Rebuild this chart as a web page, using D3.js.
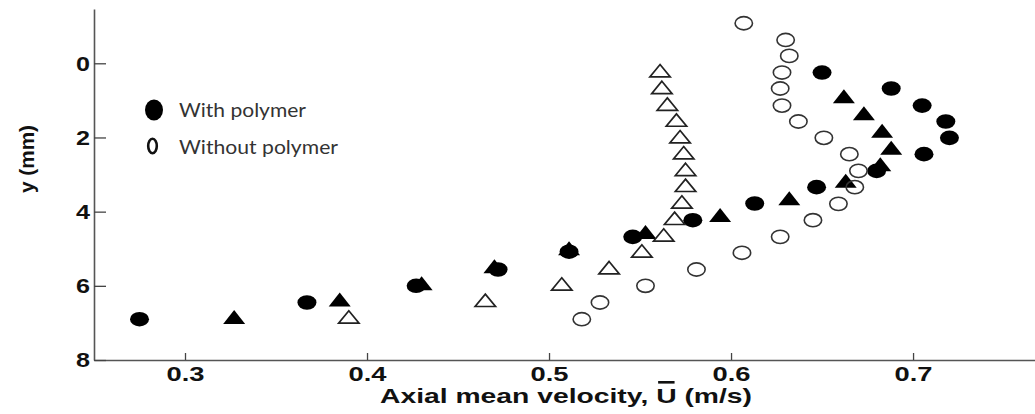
<!DOCTYPE html>
<html>
<head>
<meta charset="utf-8">
<script src="https://d3js.org/d3.v7.min.js"></script>
<style>
    html, body { margin: 0; padding: 0; background: #fff; }
    #chart { width: 1035px; height: 414px; }
    .tickLabel { font-family: "Liberation Sans", Arial, sans-serif; font-weight: bold; font-size: 21px; fill: #111; }
    .legendText { font-family: Lato, "Open Sans", sans-serif; font-size: 20px; fill: #333; }
</style>
</head>
<body>
<div id="chart"></div>
<script>

/* values: axial mean velocity (m/s) and y (mm) */

const filledCircleU = [0.275, 0.367, 0.427, 0.472, 0.511, 0.546, 0.579, 0.613, 0.647, 0.680, 0.706, 0.720, 0.718, 0.705, 0.688, 0.650];
const filledCircleY = [6.90, 6.45, 6.00, 5.56, 5.08, 4.68, 4.23, 3.78, 3.34, 2.90, 2.45, 2.01, 1.57, 1.14, 0.68, 0.25];

const filledTriangleU = [0.327, 0.385, 0.430, 0.470, 0.511, 0.553, 0.594, 0.632, 0.663, 0.682, 0.688, 0.683, 0.673, 0.662];
const filledTriangleY = [6.84, 6.37, 5.93, 5.47, 4.99, 4.55, 4.09, 3.64, 3.17, 2.72, 2.28, 1.82, 1.35, 0.89];

const openCircleU = [0.518, 0.528, 0.553, 0.581, 0.606, 0.627, 0.645, 0.659, 0.668, 0.670, 0.665, 0.651, 0.637, 0.628, 0.627, 0.628, 0.632, 0.630, 0.607];
const openCircleY = [6.90, 6.45, 6.00, 5.56, 5.11, 4.68, 4.23, 3.79, 3.34, 2.90, 2.45, 2.01, 1.57, 1.14, 0.68, 0.25, -0.20, -0.63, -1.08];

const openTriangleU = [0.390, 0.465, 0.507, 0.533, 0.551, 0.563, 0.569, 0.573, 0.575, 0.575, 0.574, 0.572, 0.570, 0.565, 0.562, 0.561];
const openTriangleY = [6.84, 6.39, 5.95, 5.51, 5.06, 4.63, 4.18, 3.74, 3.29, 2.86, 2.41, 1.98, 1.53, 1.10, 0.65, 0.20];

const xTicks = [0.3, 0.4, 0.5, 0.6, 0.7];
const yTicks = [0, 2, 4, 6, 8];
const legendLabels = ["With polymer", "Without polymer"];

const width = 1035;
const height = 414;

const canvas = d3.select("#chart")
    .append("svg")
    .attr("width", width)
    .attr("height", height);

const xScale = d3.scaleLinear()
    .domain([0.25, 0.767])
    .range([94, 1035]);

const yScale = d3.scaleLinear()
    .domain([-1.464, 8])
    .range([9, 360]);

function zip(us, ys) {
    return us.map(function(u, i) { return {u: u, y: ys[i]}; });
}

/*making the axes*/

const xAxis = canvas.append("g")
    .attr("transform", `translate(0,${yScale(8)})`)
    .call(d3.axisBottom(xScale).tickValues(xTicks).tickFormat(d3.format(".1f"))
        .tickSizeInner(-7).tickSizeOuter(0).tickPadding(6.5));

const yAxis = canvas.append("g")
    .attr("transform", `translate(${xScale(0.25)},0)`)
    .call(d3.axisLeft(yScale).tickValues(yTicks).tickFormat(d3.format("d"))
        .tickSizeInner(-12).tickSizeOuter(0).tickPadding(4));

canvas.selectAll(".domain").attr("stroke", "#555").attr("stroke-width", 1.6);
canvas.selectAll(".tick line").attr("stroke", "#444").attr("stroke-width", 1.3);

xAxis.selectAll("text")
    .attr("class", "tickLabel")
    .attr("font-size", null).attr("font-family", null)
    .attr("textLength", 38).attr("lengthAdjust", "spacingAndGlyphs");

yAxis.selectAll("text")
    .attr("class", "tickLabel")
    .attr("textLength", 14).attr("lengthAdjust", "spacingAndGlyphs");

xAxis.attr("font-family", null).attr("font-size", null);
yAxis.attr("font-family", null).attr("font-size", null);

/*axis titles*/

const xTitle = canvas.append("text")
    .attr("class", "tickLabel")
    .attr("x", 380)
    .attr("y", 403)
    .attr("font-size", 19.5)
    .attr("textLength", 372)
    .attr("lengthAdjust", "spacingAndGlyphs")
    .text("Axial mean velocity, U (m/s)");

// bar over the U
const uIndex = "Axial mean velocity, ".length;
const uBox = xTitle.node().getExtentOfChar(uIndex);
canvas.append("rect")
    .attr("x", uBox.x + 2)
    .attr("y", 381)
    .attr("width", uBox.width - 4)
    .attr("height", 2.6)
    .attr("fill", "#111");

canvas.append("text")
    .attr("class", "tickLabel")
    .attr("font-size", 20.5)
    .attr("text-anchor", "middle")
    .attr("transform", "translate(34,159) rotate(-90)")
    .attr("textLength", 68)
    .attr("lengthAdjust", "spacingAndGlyphs")
    .text("y (mm)");

/*drawing the markers*/

const points = canvas.append("g");

points.selectAll(".filledCircle")
    .data(zip(filledCircleU, filledCircleY))
    .enter()
    .append("ellipse")
        .attr("cx", function(d) { return xScale(d.u); })
        .attr("cy", function(d) { return yScale(d.y); })
        .attr("rx", 9.5)
        .attr("ry", 7.3)
        .attr("fill", "#000");

points.selectAll(".filledTriangle")
    .data(zip(filledTriangleU, filledTriangleY))
    .enter()
    .append("path")
        .attr("d", "M0,-7L11,7L-11,7Z")
        .attr("transform", function(d) { return `translate(${xScale(d.u)},${yScale(d.y)})`; })
        .attr("fill", "#000");

points.selectAll(".openCircle")
    .data(zip(openCircleU, openCircleY))
    .enter()
    .append("ellipse")
        .attr("cx", function(d) { return xScale(d.u); })
        .attr("cy", function(d) { return yScale(d.y); })
        .attr("rx", 8.7)
        .attr("ry", 6.6)
        .attr("fill", "none")
        .attr("stroke", "#333")
        .attr("stroke-width", 1.6);

points.selectAll(".openTriangle")
    .data(zip(openTriangleU, openTriangleY))
    .enter()
    .append("path")
        .attr("d", "M0,-6.2L10.2,6.2L-10.2,6.2Z")
        .attr("transform", function(d) { return `translate(${xScale(d.u)},${yScale(d.y)})`; })
        .attr("fill", "none")
        .attr("stroke", "#222")
        .attr("stroke-width", 1.7)
        .attr("stroke-linejoin", "miter");

/*legend*/

const legend = canvas.append("g");

legend.append("ellipse")
    .attr("cx", 154).attr("cy", 110)
    .attr("rx", 9).attr("ry", 10.5)
    .attr("fill", "#000");

legend.append("ellipse")
    .attr("cx", 152.5).attr("cy", 146)
    .attr("rx", 4.3).attr("ry", 7.2)
    .attr("fill", "none")
    .attr("stroke", "#111")
    .attr("stroke-width", 2.6);

legend.selectAll(".legendText")
    .data(legendLabels)
    .enter()
    .append("text")
        .attr("class", "legendText")
        .attr("x", 179)
        .attr("y", function(d, i) { return 117 + i * 36.5; })
        .attr("textLength", function(d, i) { return i === 0 ? 127 : 159; })
        .attr("lengthAdjust", "spacingAndGlyphs")
        .text(function(d) { return d; });

</script>
</body>
</html>
